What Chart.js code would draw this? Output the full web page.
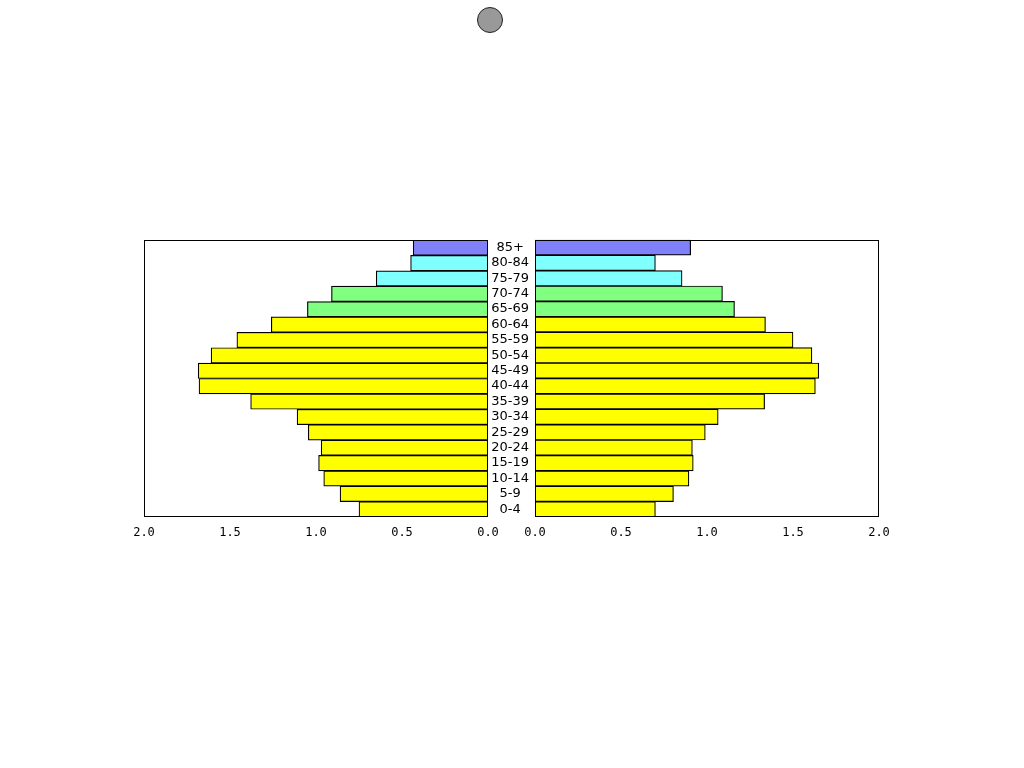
<!DOCTYPE html>
<html>
<head>
<meta charset="utf-8">
<title>Population pyramid</title>
<script src="https://cdn.jsdelivr.net/npm/chart.js@4"></script>
<style>
  html, body { margin: 0; padding: 0; background: #fff; }
  body { width: 1024px; height: 768px; position: relative; overflow: hidden; }
  .wrap { position: absolute; }
  #leftWrap { left: 120px; top: 230px; width: 388px; height: 320px; }
  #rightWrap { left: 468px; top: 226px; width: 431px; height: 324px; }
  #dot {
    position: absolute; left: 477px; top: 7px; width: 24px; height: 24px;
    border-radius: 50%; background: #999; border: 1px solid #222;
  }
</style>
</head>
<body>
<div id="dot"></div>
<div class="wrap" id="leftWrap"><canvas id="leftChart"></canvas></div>
<div class="wrap" id="rightWrap"><canvas id="rightChart"></canvas></div>
<script>
// age groups, youngest first
const ageGroups = ['0-4', '5-9', '10-14', '15-19', '20-24', '25-29', '30-34', '35-39', '40-44',
  '45-49', '50-54', '55-59', '60-64', '65-69', '70-74', '75-79', '80-84', '85+'];

// left side (males)
const leftValues = [0.75, 0.86, 0.955, 0.985, 0.97, 1.045, 1.11, 1.38, 1.68,
  1.685, 1.61, 1.46, 1.26, 1.05, 0.91, 0.65, 0.45, 0.435];

// right side (females)
const rightValues = [0.70, 0.805, 0.895, 0.92, 0.915, 0.99, 1.065, 1.335, 1.63,
  1.65, 1.61, 1.50, 1.34, 1.16, 1.09, 0.855, 0.70, 0.905];

const xTicks = [0, 0.5, 1.0, 1.5, 2.0];

// colour by age band
const bandColours = ageGroups.map((g, i) => {
  if (i >= 17) return '#8080f8';
  if (i >= 15) return '#80ffff';
  if (i >= 13) return '#80ff80';
  return '#ffff00';
});

const frame = {
  id: 'frame',
  afterDatasetsDraw(chart) {
    const a = chart.chartArea;
    const ctx = chart.ctx;
    ctx.save();
    ctx.strokeStyle = '#000';
    ctx.lineWidth = 1;
    ctx.strokeRect(Math.round(a.left) + 0.5, Math.round(a.top) + 0.5,
      Math.round(a.right - a.left) - 1, Math.round(a.bottom - a.top) - 1);
    ctx.restore();
  }
};

function xScale(reverse) {
  return {
    min: 0,
    max: 2,
    reverse: reverse,
    afterBuildTicks: (s) => { s.ticks = xTicks.map(v => ({ value: v })); },
    afterFit: (s) => { s.height = 25; },
    grid: { display: false, drawTicks: false },
    border: { display: false },
    ticks: {
      padding: 9,
      color: '#000',
      font: { family: 'DejaVu Sans Mono', size: 12 },
      callback: (v) => Number(v).toFixed(1)
    }
  };
}

function barData(values) {
  return {
    labels: ageGroups,
    datasets: [{
      data: values,
      backgroundColor: bandColours,
      borderColor: '#000',
      borderWidth: 1.2,
      borderSkipped: false,
      barPercentage: 1,
      categoryPercentage: 1
    }]
  };
}

const common = {
  indexAxis: 'y',
  responsive: true,
  maintainAspectRatio: false,
  animation: false,
  plugins: { legend: { display: false }, tooltip: { enabled: false } }
};

new Chart(document.getElementById('leftChart'), {
  type: 'bar',
  data: barData(leftValues),
  plugins: [frame],
  options: Object.assign({}, common, {
    layout: { padding: { left: 24, right: 20, top: 10, bottom: 8 } },
    scales: {
      x: xScale(true),
      y: { display: false, reverse: true }
    }
  })
});

new Chart(document.getElementById('rightChart'), {
  type: 'bar',
  data: barData(rightValues),
  plugins: [frame],
  options: Object.assign({}, common, {
    layout: { padding: { left: 20, right: 20, top: 10, bottom: 8 } },
    scales: {
      x: xScale(false),
      y: {
        reverse: true,
        afterFit: (s) => { s.width = 47; },
        grid: { display: false, drawTicks: false },
        border: { display: false },
        ticks: {
          crossAlign: 'center',
          padding: 6,
          color: '#000',
          autoSkip: false,
          font: { family: 'DejaVu Sans', size: 13 }
        }
      }
    }
  })
});
</script>
</body>
</html>
